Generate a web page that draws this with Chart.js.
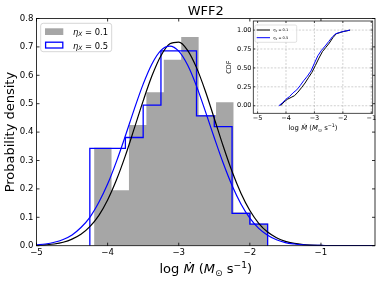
<!DOCTYPE html>
<html>
<head>
<meta charset="utf-8">
<script src="https://cdn.jsdelivr.net/npm/chart.js@4.4.1/dist/chart.umd.min.js"></script>
<style>
  html, body { margin: 0; padding: 0; background: #fff; }
  #wrap { position: relative; width: 380px; height: 282px; }
  #main { position: absolute; left: 0; top: 0; }
  #inset { position: absolute; left: 200px; top: 0; }
</style>
</head>
<body>
<div id="wrap">
  <canvas id="main" width="380" height="282" style="width:380px;height:282px"></canvas>
  <canvas id="inset" width="180" height="140" style="width:180px;height:140px"></canvas>
</div>
<script>

/* DADOS */

const title = "WFF2"
const etaValues = ["0.1", "0.5"]

// histograma eta_X = 0.1 (cinza) e eta_X = 0.5 (contorno azul)
const grayEdges = [-4.19, -3.945, -3.70, -3.455, -3.21, -2.965, -2.72, -2.475, -2.23, -1.985, -1.74]
const grayDens = [0.345, 0.195, 0.425, 0.54, 0.655, 0.735, 0.46, 0.505, 0.117, 0.078]
const blueEdges = [-4.25, -4.0, -3.75, -3.5, -3.25, -3.0, -2.75, -2.5, -2.25, -2.0, -1.75]
const blueDens = [0.343, 0.343, 0.381, 0.495, 0.686, 0.686, 0.457, 0.419, 0.114, 0.076]

// curvas ajustadas, lidas a cada 0.125
const curveX = [-5, -4.875, -4.75, -4.625, -4.5, -4.375, -4.25, -4.125, -4, -3.875, -3.75, -3.625, -3.5,
    -3.375, -3.25, -3.125, -3, -2.875, -2.75, -2.625, -2.5, -2.375, -2.25, -2.125, -2, -1.875, -1.75,
    -1.625, -1.5, -1.375, -1.25, -1.125, -1, -0.875, -0.75, -0.625, -0.5, -0.375, -0.25]
const blackFit = [0.001, 0.003, 0.006, 0.012, 0.023, 0.040, 0.067, 0.106, 0.161, 0.232, 0.317, 0.413, 0.510,
    0.599, 0.669, 0.711, 0.717, 0.688, 0.627, 0.544, 0.448, 0.351, 0.261, 0.185, 0.124, 0.079, 0.048,
    0.028, 0.015, 0.008, 0.004, 0.002, 0.001, 0, 0, 0, 0, 0, 0]
const blueFit = [0.003, 0.006, 0.012, 0.022, 0.038, 0.064, 0.100, 0.152, 0.217, 0.297, 0.387, 0.481, 0.569,
    0.641, 0.688, 0.703, 0.685, 0.636, 0.562, 0.473, 0.380, 0.291, 0.212, 0.147, 0.097, 0.061, 0.037,
    0.021, 0.011, 0.006, 0.003, 0.001, 0.001, 0, 0, 0, 0, 0, 0]

// CDF do inset
const blackCdfX = [-4.19, -4.07, -3.945, -3.82, -3.70, -3.58, -3.455, -3.33, -3.21, -3.09, -2.965,
    -2.84, -2.72, -2.6, -2.475, -2.35, -2.23, -2.1, -1.985, -1.86, -1.74]
const blackCdfY = [0, 0.05, 0.086, 0.11, 0.133, 0.18, 0.238, 0.30, 0.371, 0.44, 0.533,
    0.63, 0.714, 0.77, 0.829, 0.90, 0.952, 0.967, 0.981, 0.99, 1.0]
const blueCdfX = [-4.25, -4.12, -4.0, -3.88, -3.75, -3.62, -3.5, -3.38, -3.25, -3.12, -3.0,
    -2.88, -2.75, -2.62, -2.5, -2.37, -2.25, -2.12, -2.0, -1.87, -1.75]
const blueCdfY = [0, 0.04, 0.086, 0.12, 0.171, 0.21, 0.267, 0.33, 0.39, 0.46, 0.562,
    0.66, 0.733, 0.79, 0.848, 0.91, 0.952, 0.967, 0.981, 0.99, 1.0]

// eixos
const xTicks = [-5, -4, -3, -2, -1]
const xTickLabels = ["\u22125", "\u22124", "\u22123", "\u22122", "\u22121"]
const yTicks = [0, 0.1, 0.2, 0.3, 0.4, 0.5, 0.6, 0.7, 0.8]
const yTickLabels = ["0.0", "0.1", "0.2", "0.3", "0.4", "0.5", "0.6", "0.7", "0.8"]
const cdfTicks = [0, 0.25, 0.5, 0.75, 1]
const cdfTickLabels = ["0.00", "0.25", "0.50", "0.75", "1.00"]


/* AUXILIARES */

const FAM = "'DejaVu Sans'"
const GRAY = "#a6a6a6"
const BLUE = "#0000ff"

function stepPoints(edges, dens) {
    const pts = [{ x: edges[0], y: 0 }]
    dens.forEach((d, i) => pts.push({ x: edges[i], y: d }))
    pts.push({ x: edges[edges.length - 1], y: 0 })
    return pts
}

function pairs(xs, ys) {
    return xs.map((v, i) => ({ x: v, y: ys[i] }))
}

// texto com italico / subscrito / sobrescrito
function drawMath(ctx, parts, x, y, size, align) {
    const fonts = parts.map(p => {
        const s = (p.sub || p.sup) ? size * 0.7 : size
        return (p.it ? "italic " : "") + s + "px " + FAM
    })
    let w = 0
    parts.forEach((p, i) => { ctx.font = fonts[i]; w += ctx.measureText(p.t).width })
    let cx = align === "left" ? x : x - w / 2
    ctx.textAlign = "left"
    ctx.textBaseline = "alphabetic"
    parts.forEach((p, i) => {
        ctx.font = fonts[i]
        const dy = p.sub ? size * 0.22 : p.sup ? -size * 0.42 : 0
        ctx.fillText(p.t, cx, y + dy)
        cx += ctx.measureText(p.t).width
    })
}

function xLabelParts() {
    return [
        { t: "log " }, { t: "\u1E40", it: 1 }, { t: " (" }, { t: "M", it: 1 },
        { t: "\u2299", sub: 1 }, { t: " s" }, { t: "\u22121", sup: 1 }, { t: ")" }
    ]
}

function etaParts(v) {
    return [{ t: "\u03B7", it: 1 }, { t: "X", it: 1, sub: 1 }, { t: " = " + v }]
}

function inwardTicks(ctx, a, xs, ys, sx, sy, len) {
    ctx.beginPath()
    xs.forEach(v => {
        const px = sx.getPixelForValue(v)
        ctx.moveTo(px, a.bottom); ctx.lineTo(px, a.bottom - len)
        ctx.moveTo(px, a.top); ctx.lineTo(px, a.top + len)
    })
    ys.forEach(v => {
        const py = sy.getPixelForValue(v)
        ctx.moveTo(a.left, py); ctx.lineTo(a.left + len, py)
        ctx.moveTo(a.right, py); ctx.lineTo(a.right - len, py)
    })
    ctx.stroke()
}


/* GRAFICO PRINCIPAL */

const mainDeco = {
    id: "mainDeco",
    afterDraw(c) {
        const { ctx, chartArea: a, scales: { x, y } } = c
        ctx.save()
        ctx.strokeStyle = "#000"
        ctx.lineWidth = 0.8
        ctx.strokeRect(a.left, a.top, a.right - a.left, a.bottom - a.top)
        inwardTicks(ctx, a, xTicks, yTicks, x, y, 3)

        ctx.fillStyle = "#000"
        ctx.font = "13px " + FAM
        ctx.textAlign = "center"
        ctx.textBaseline = "alphabetic"
        ctx.fillText(title, (a.left + a.right) / 2, 15)

        drawMath(ctx, xLabelParts(), (a.left + a.right) / 2, 273, 13)

        ctx.save()
        ctx.translate(11, (a.top + a.bottom) / 2)
        ctx.rotate(-Math.PI / 2)
        ctx.font = "13px " + FAM
        ctx.textAlign = "center"
        ctx.textBaseline = "middle"
        ctx.fillText("Probability density", 0, 0)
        ctx.restore()

        // legenda
        ctx.beginPath()
        ctx.roundRect(40.7, 23.3, 71, 28.4, 2.5)
        ctx.fillStyle = "rgba(255,255,255,0.8)"
        ctx.fill()
        ctx.strokeStyle = "#cccccc"
        ctx.lineWidth = 0.8
        ctx.stroke()
        ctx.fillStyle = GRAY
        ctx.fillRect(45, 28.3, 18.3, 6.7)
        ctx.strokeStyle = BLUE
        ctx.lineWidth = 1.3
        ctx.strokeRect(45.6, 42.2, 17.2, 5.8)
        ctx.fillStyle = "#000"
        drawMath(ctx, etaParts(etaValues[0]), 73, 34.6, 8.4, "left")
        drawMath(ctx, etaParts(etaValues[1]), 73, 48.6, 8.4, "left")
        ctx.restore()
    }
}

new Chart(document.getElementById("main"), {
    type: "line",
    data: {
        datasets: [
            {
                data: pairs(curveX, blueFit),
                borderColor: BLUE, borderWidth: 1.2, pointRadius: 0,
                cubicInterpolationMode: "monotone", fill: false, order: 1
            },
            {
                data: pairs(curveX, blackFit),
                borderColor: "#000", borderWidth: 1.2, pointRadius: 0,
                cubicInterpolationMode: "monotone", fill: false, order: 2
            },
            {
                data: stepPoints(blueEdges, blueDens),
                borderColor: BLUE, borderWidth: 1.3, pointRadius: 0,
                stepped: "before", fill: false, order: 3
            },
            {
                data: stepPoints(grayEdges, grayDens),
                borderColor: GRAY, borderWidth: 0, pointRadius: 0,
                backgroundColor: GRAY, stepped: "before", fill: "origin", order: 4
            }
        ]
    },
    options: {
        responsive: false,
        animation: false,
        layout: { padding: { left: 0, right: 5, top: 18.5, bottom: 0 } },
        plugins: { legend: { display: false }, tooltip: { enabled: false } },
        scales: {
            x: {
                type: "linear", min: -5, max: -0.24,
                afterFit: s => { s.height = 36.3 },
                afterBuildTicks: s => { s.ticks = xTicks.map(v => ({ value: v })) },
                grid: { display: false, drawTicks: false },
                border: { display: false },
                ticks: {
                    callback: (v, i) => xTickLabels[i], color: "#000",
                    font: { family: "DejaVu Sans", size: 8.6 }, padding: 1.5,
                    autoSkip: false, maxRotation: 0
                }
            },
            y: {
                type: "linear", min: 0, max: 0.8,
                afterFit: s => { s.width = 36.5 },
                afterBuildTicks: s => { s.ticks = yTicks.map(v => ({ value: v })) },
                grid: { display: false, drawTicks: false },
                border: { display: false },
                ticks: {
                    callback: (v, i) => yTickLabels[i], color: "#000",
                    font: { family: "DejaVu Sans", size: 8.6 }, padding: 3,
                    autoSkip: false
                }
            }
        }
    },
    plugins: [mainDeco]
})


/* INSET CDF */

const insetDeco = {
    id: "insetDeco",
    beforeDatasetsDraw(c) {
        const { ctx, chartArea: a, scales: { x, y } } = c
        ctx.save()
        ctx.fillStyle = "#fff"
        ctx.fillRect(a.left, a.top, a.right - a.left, a.bottom - a.top)
        ctx.strokeStyle = "#b0b0b0"
        ctx.lineWidth = 0.6
        ctx.setLineDash([2, 1.5])
        ctx.beginPath()
        xTicks.forEach(v => {
            const px = x.getPixelForValue(v)
            ctx.moveTo(px, a.top); ctx.lineTo(px, a.bottom)
        })
        cdfTicks.forEach(v => {
            const py = y.getPixelForValue(v)
            ctx.moveTo(a.left, py); ctx.lineTo(a.right, py)
        })
        ctx.stroke()
        ctx.restore()
    },
    afterDraw(c) {
        const { ctx, chartArea: a, scales: { x, y } } = c
        ctx.save()
        ctx.strokeStyle = "#222"
        ctx.lineWidth = 0.8
        ctx.strokeRect(a.left, a.top, a.right - a.left, a.bottom - a.top)
        inwardTicks(ctx, a, xTicks, cdfTicks, x, y, 2)

        ctx.fillStyle = "#000"
        drawMath(ctx, xLabelParts(), (a.left + a.right) / 2, 130, 6.9)

        ctx.save()
        ctx.translate(29, (a.top + a.bottom) / 2)
        ctx.rotate(-Math.PI / 2)
        ctx.font = "6.5px " + FAM
        ctx.textAlign = "center"
        ctx.textBaseline = "middle"
        ctx.fillText("CDF", 0, 0)
        ctx.restore()

        // legenda do inset
        ctx.beginPath()
        ctx.roundRect(55, 25, 41.7, 17.3, 1.5)
        ctx.fillStyle = "rgba(255,255,255,0.8)"
        ctx.fill()
        ctx.strokeStyle = "#cccccc"
        ctx.lineWidth = 0.6
        ctx.stroke()
        ctx.lineWidth = 1
        ctx.strokeStyle = "#000"
        ctx.beginPath(); ctx.moveTo(56.7, 30); ctx.lineTo(70, 30); ctx.stroke()
        ctx.strokeStyle = BLUE
        ctx.beginPath(); ctx.moveTo(56.7, 37.7); ctx.lineTo(70, 37.7); ctx.stroke()
        ctx.fillStyle = "#000"
        drawMath(ctx, etaParts(etaValues[0]), 73.3, 31.3, 3.6, "left")
        drawMath(ctx, etaParts(etaValues[1]), 73.3, 39, 3.6, "left")
        ctx.restore()
    }
}

new Chart(document.getElementById("inset"), {
    type: "line",
    data: {
        datasets: [
            {
                data: pairs(blueCdfX, blueCdfY),
                borderColor: BLUE, borderWidth: 1, pointRadius: 0, tension: 0, fill: false, order: 1
            },
            {
                data: pairs(blackCdfX, blackCdfY),
                borderColor: "#000", borderWidth: 1, pointRadius: 0, tension: 0, fill: false, order: 2
            }
        ]
    },
    options: {
        responsive: false,
        animation: false,
        layout: { padding: { left: 0, right: 7.3, top: 21, bottom: 0 } },
        plugins: { legend: { display: false }, tooltip: { enabled: false } },
        scales: {
            x: {
                type: "linear", min: -5.15, max: -0.95,
                afterFit: s => { s.height = 26.7 },
                afterBuildTicks: s => { s.ticks = xTicks.map(v => ({ value: v })) },
                grid: { display: false, drawTicks: false },
                border: { display: false },
                ticks: {
                    callback: (v, i) => xTickLabels[i], color: "#000",
                    font: { family: "DejaVu Sans", size: 6.5 }, padding: 1.5,
                    autoSkip: false, maxRotation: 0
                }
            },
            y: {
                type: "linear", min: -0.1, max: 1.12,
                afterFit: s => { s.width = 53.3 },
                afterBuildTicks: s => { s.ticks = cdfTicks.map(v => ({ value: v })) },
                grid: { display: false, drawTicks: false },
                border: { display: false },
                ticks: {
                    callback: (v, i) => cdfTickLabels[i], color: "#000",
                    font: { family: "DejaVu Sans", size: 6.5 }, padding: 1.8,
                    autoSkip: false
                }
            }
        }
    },
    plugins: [insetDeco]
})

</script>
</body>
</html>
